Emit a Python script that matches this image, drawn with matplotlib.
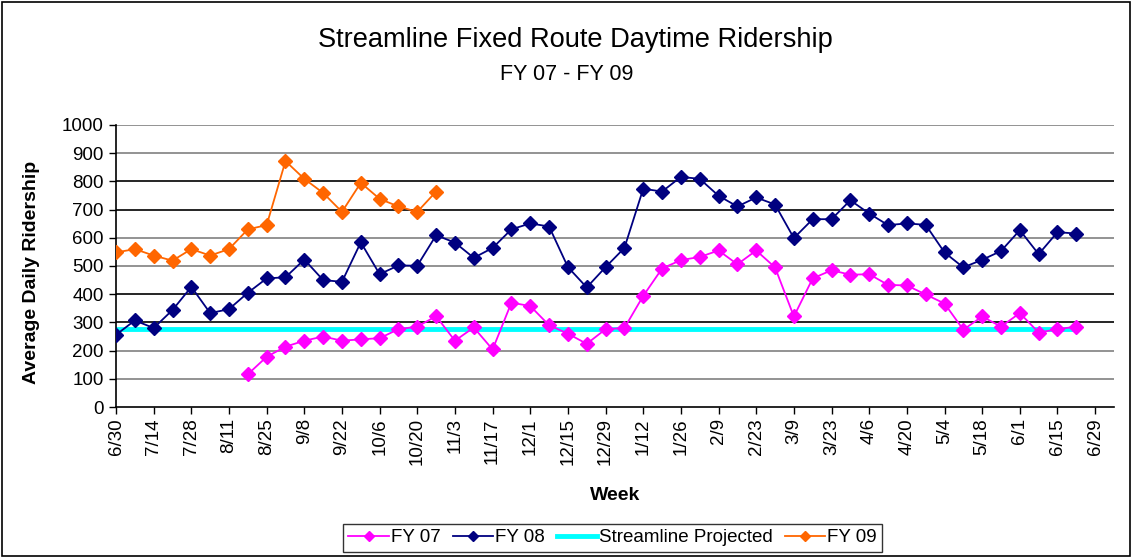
import numpy as np
import matplotlib
matplotlib.use("Agg")
import matplotlib.pyplot as plt
from matplotlib.patches import Rectangle

plt.rcParams['font.family'] = ['Liberation Sans', 'DejaVu Sans']

week_labels = ["6/30", "7/14", "7/28", "8/11", "8/25", "9/8", "9/22", "10/6", "10/20",
               "11/3", "11/17", "12/1", "12/15", "12/29", "1/12", "1/26", "2/9", "2/23",
               "3/9", "3/23", "4/6", "4/20", "5/4", "5/18", "6/1", "6/15", "6/29"]

# weekly values, week 0 = 6/30
fy07_start = 7
fy07 = [116, 178, 214, 235, 250, 235, 240, 244, 276, 285, 322, 235, 282,
        204, 370, 358, 290, 260, 224, 276, 280, 394, 491, 521, 532, 555,
        506, 555, 495, 321, 456, 485, 469, 471, 433, 431, 399, 367, 274,
        321, 285, 333, 264, 276, 285]
fy08 = [256, 307, 280, 344, 426, 333, 347, 405, 456, 460, 523, 450, 444,
        584, 471, 502, 501, 609, 583, 529, 564, 630, 651, 640, 496, 424,
        496, 564, 774, 764, 816, 809, 749, 711, 743, 718, 599, 666, 666,
        733, 686, 645, 651, 646, 548, 495, 522, 553, 627, 542, 620, 615]
fy09 = [548, 560, 537, 519, 560, 537, 560, 630, 645, 872, 809, 759, 692,
        795, 738, 711, 692, 764]
projected = 276

weeks08 = np.arange(len(fy08))
weeks07 = np.arange(fy07_start, fy07_start + len(fy07))
weeks09 = np.arange(len(fy09))

fig = plt.figure(figsize=(11.33, 5.58), dpi=100)
ax = fig.add_axes([0.1024, 0.2706, 0.8808, 0.5054])

ax.set_xlim(0, 53)
ax.set_ylim(0, 1000)
yticks = np.arange(0, 1001, 100)
ax.set_yticks(yticks)
for i, v in enumerate(yticks[1:]):
    c = 'black' if (i // 2) % 2 == 1 else '#808080'
    ax.axhline(v, color=c, lw=1.2, zorder=0)

ax.plot(weeks08, [projected] * len(weeks08), color='#00FFFF', lw=3.5,
        label='Streamline Projected', zorder=2)
ax.plot(weeks07, fy07, color='#FF00FF', lw=1.3, marker='D', ms=7,
        label='FY 07', zorder=3)
ax.plot(weeks08, fy08, color='#000080', lw=1.3, marker='D', ms=7,
        label='FY 08', zorder=3)
ax.plot(weeks09, fy09, color='#FF6600', lw=1.3, marker='D', ms=7,
        label='FY 09', zorder=3)

ax.set_xticks(np.arange(0, 2 * len(week_labels), 2))
ax.set_xticklabels(week_labels, rotation=90)
ax.tick_params(axis='both', labelsize=13.5, length=5, width=1, color='black')
ax.tick_params(axis='x', pad=3)
ax.tick_params(axis='y', pad=4)

for s in ['top', 'right']:
    ax.spines[s].set_visible(False)
for s in ['left', 'bottom']:
    ax.spines[s].set_linewidth(1.2)

ax.set_ylabel('Average Daily Ridership', fontsize=14, fontweight='bold')
ax.yaxis.set_label_coords(-0.076, 0.477)
ax.set_xlabel('Week', fontsize=14, fontweight='bold')
ax.xaxis.set_label_coords(0.5, -0.284)

fig.text(0.5075, 0.9158, 'Streamline Fixed Route Daytime Ridership', fontsize=19.6,
         ha='center', va='baseline')
fig.text(0.5004, 0.866, 'FY 07 - FY 09', fontsize=15.5, ha='center', va='center')

handles, labels = ax.get_legend_handles_labels()
order = [labels.index(n) for n in ['FY 07', 'FY 08', 'Streamline Projected', 'FY 09']]
leg = fig.legend([handles[i] for i in order], [labels[i] for i in order],
                 loc='center', bbox_to_anchor=(0.5406, 0.036), ncol=4, fontsize=13.5,
                 frameon=True, fancybox=False, edgecolor='black', handlelength=2.15,
                 handletextpad=0.1, columnspacing=0.65, borderpad=0.3,
                 borderaxespad=0, markerscale=0.75)
leg.get_frame().set_linewidth(1.0)

fig.patches.append(Rectangle((0.002, 0.003), 0.995, 0.994, transform=fig.transFigure,
                             fill=False, edgecolor='black', lw=1.2))

plt.savefig("out.png", dpi=100)
